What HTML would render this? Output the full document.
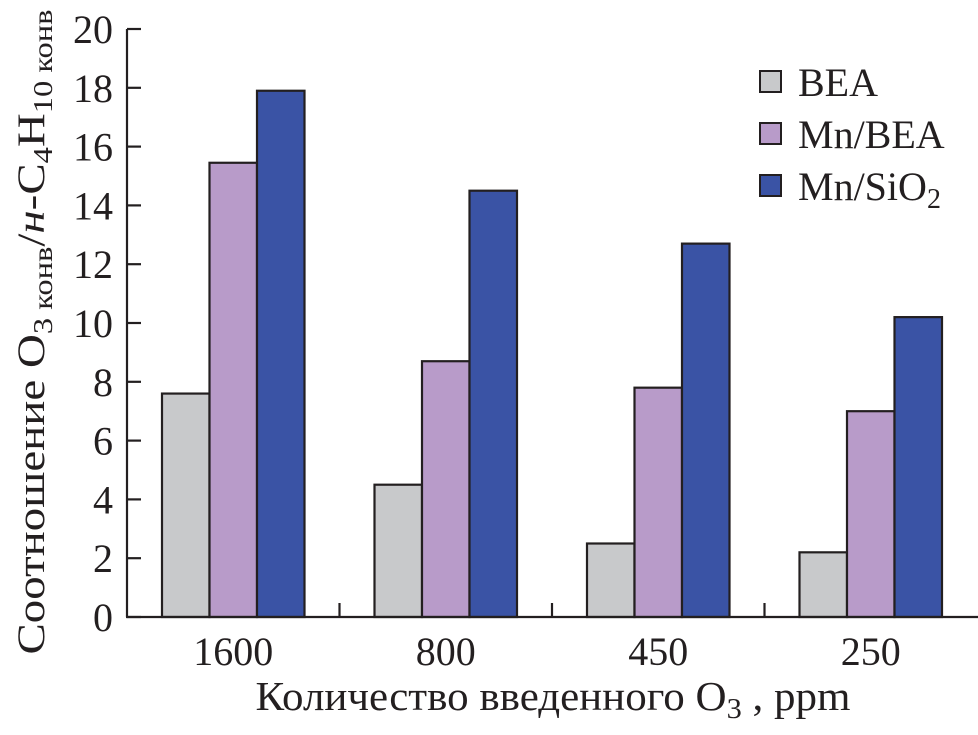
<!DOCTYPE html>
<html><head><meta charset="utf-8"><style>
html,body{margin:0;padding:0;background:#fff;}
svg{display:block;font-family:"Liberation Serif",serif;}
</style></head><body>
<svg id="chart" width="978" height="735" viewBox="0 0 978 735">
<g id="bars"></g>
<g id="axes"></g>
<text transform="translate(44,332) rotate(-90)" text-anchor="middle" font-size="39" fill="#231f20" textLength="645" lengthAdjust="spacingAndGlyphs">Соотношение O<tspan font-size="27" dy="8">3 конв</tspan><tspan dy="-8">/</tspan><tspan font-style="italic">н</tspan>-C<tspan font-size="27" dy="8">4</tspan><tspan dy="-8">H</tspan><tspan font-size="27" dy="8">10 конв</tspan></text>
<text x="553" y="710" text-anchor="middle" font-size="41" fill="#231f20" textLength="595" lengthAdjust="spacingAndGlyphs">Количество введенного O<tspan font-size="29" dy="8">3</tspan><tspan dy="-8"> , ppm</tspan></text>
<g id="legend"></g>
</svg>
<script>
const categories = ["1600", "800", "450", "250"];
const seriesNames = ["BEA", "Mn/BEA", "Mn/SiO2"];
const beaValues = [7.6, 4.5, 2.5, 2.2];
const mnBeaValues = [15.45, 8.7, 7.8, 7.0];
const mnSio2Values = [17.9, 14.5, 12.7, 10.2];
const yTicks = [0, 2, 4, 6, 8, 10, 12, 14, 16, 18, 20];

const NS = "http://www.w3.org/2000/svg";
const colors = ["#c8c9cb", "#b89bc9", "#3a53a5"];
const series = [beaValues, mnBeaValues, mnSio2Values];
const X0 = 127, BAND = 212.5, Y0 = 617, YTOP = 29, YMAX = 20, BARW = 47.5;
const yScale = v => Y0 - (v / YMAX) * (Y0 - YTOP);
const xBand = i => X0 + i * BAND;
function el(tag, attrs, parent) {
  const e = document.createElementNS(NS, tag);
  for (const k in attrs) e.setAttribute(k, attrs[k]);
  parent.appendChild(e);
  return e;
}
const barsG = document.getElementById("bars");
categories.forEach((c, i) => {
  const start = xBand(i) + BAND / 2 - BARW * 1.5;
  series.forEach((vals, s) => {
    const y = yScale(vals[i]);
    const r = el("rect", {x: start + s * BARW, y: y, width: BARW, height: Y0 - y, fill: colors[s], stroke: "#231f20", "stroke-width": 2.2}, barsG);
    
    
  });
});
const axG = document.getElementById("axes");
const ya = el("line", {x1: X0, y1: YTOP, x2: X0, y2: Y0, stroke: "#231f20", "stroke-width": 2.2}, axG);


const xa = el("line", {x1: X0 - 1, y1: Y0, x2: 978, y2: Y0, stroke: "#231f20", "stroke-width": 2.2}, axG);


yTicks.forEach(t => {
  const y = yScale(t);
  el("line", {x1: X0, y1: y, x2: X0 + 14, y2: y, stroke: "#231f20", "stroke-width": 2.2}, axG);
  const tx = el("text", {x: 113, y: y + 14, "text-anchor": "end", "font-size": 40, fill: "#231f20"}, axG);
  tx.textContent = t;
  
  
});
categories.forEach((c, i) => {
  if (i > 0) el("line", {x1: xBand(i), y1: Y0, x2: xBand(i), y2: Y0 - 14, stroke: "#231f20", "stroke-width": 2.2}, axG);
  const tx = el("text", {x: xBand(i) + BAND / 2, y: Y0 + 48, "text-anchor": "middle", "font-size": 40, fill: "#231f20"}, axG);
  tx.textContent = c;
  
  
});
const lg = document.getElementById("legend");
seriesNames.forEach((n, s) => {
  const cy = 82 + s * 52;
  const r = el("rect", {x: 760, y: cy - 11, width: 21, height: 21, fill: colors[s], stroke: "#231f20", "stroke-width": 2}, lg);
  
  
  const t = el("text", {x: 798, y: cy + 14, "font-size": 40, fill: "#231f20"}, lg);
  
  
  if (n === "Mn/SiO2") {
    t.textContent = "Mn/SiO";
    el("tspan", {"font-size": 28, dy: 8}, t).textContent = "2";
  } else t.textContent = n;
});
</script>
</body></html>
